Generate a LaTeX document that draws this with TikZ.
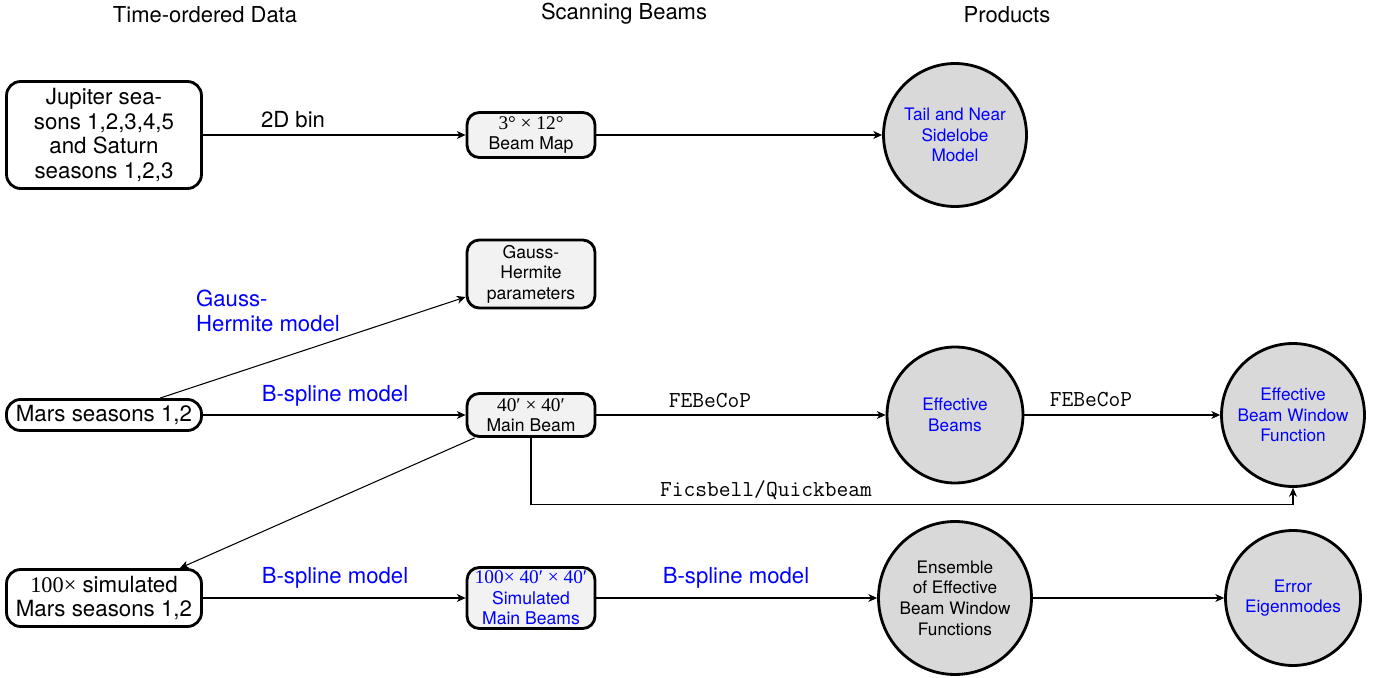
\documentclass[tikz,border=0pt]{standalone}
\usepackage{fontspec}
\setmainfont{TeX Gyre Heros}
\newfontfamily\tms{Liberation Serif}
\usetikzlibrary{arrows.meta,calc}
\definecolor{lblue}{RGB}{0,0,255}
\definecolor{boxgray}{RGB}{242,242,242}
\definecolor{circgray}{RGB}{217,217,217}
\newcommand{\tmsb}{\tms\fontsize{11}{11.7}\selectfont}
\begin{document}
\begin{tikzpicture}[x=0.02cm,y=-0.02cm,
  srcbox/.style={draw, line width=1.6pt, rounded corners=8pt, fill=white, minimum width=3.9cm, align=center, inner sep=0pt, font=\fontsize{12.7}{14.2}\selectfont},
  beambox/.style={draw, line width=1.6pt, rounded corners=7pt, fill=boxgray, minimum width=2.56cm, align=center, inner sep=0pt, font=\fontsize{10}{11.7}\selectfont},
  prod/.style={draw, circle, line width=1.6pt, fill=circgray, align=center, inner sep=0pt, font=\fontsize{9.8}{11.8}\selectfont},
  conn/.style={line width=0.6pt, -{Stealth[length=5pt,width=4.5pt,inset=1.5pt]}},
  lbl/.style={font=\fontsize{12.6}{14.2}\selectfont},
  blbl/.style={lbl, text=lblue},
  ttl/.style={font=\ttfamily\fontsize{13}{14.5}\selectfont},
  hdr/.style={font=\fontsize{12.5}{14}\selectfont}]
\useasboundingbox (0,0) rectangle (1389,678);

% headers
\node[hdr] (h1) at (205,15) {Time-ordered Data};
\node[hdr] (h2) at (624,14) {Scanning Beams};
\node[hdr] (h3) at (1007,15) {Products};

% sources
\node[srcbox, minimum height=2.14cm] (jup) at (104,135) {Jupiter sea-\\sons 1,2,3,4,5\\and Saturn\\seasons 1,2,3};
\node[srcbox, minimum height=0.62cm] (mars) at (104,415) {Mars seasons 1,2};
\node[srcbox, minimum height=1.14cm] (sim) at (104,598) {{\tms 100×} simulated\\Mars seasons 1,2};

% scanning beams
\node[beambox, minimum height=0.9cm] (bmap) at (531,135) {{\tmsb 3° × 12°}\\Beam Map};
\node[beambox, minimum height=1.36cm] (gh) at (531,274) {Gauss-\\Hermite\\parameters};
\node[beambox, minimum height=0.86cm] (mb) at (531,415) {{\tmsb 40′ × 40′}\\Main Beam};
\node[beambox, minimum height=1.22cm, text=lblue] (smb) at (531,598) {{\tmsb 100× 40′ × 40′}\\Simulated\\Main Beams};

% products
\node[prod, minimum size=2.86cm, text=lblue] (tail) at (955,135) {Tail and Near\\Sidelobe\\Model};
\node[prod, minimum size=2.72cm, text=lblue] (eb) at (955,415) {Effective\\Beams};
\node[prod, minimum size=2.86cm, text=lblue] (ebwf) at (1293,415) {Effective\\Beam Window\\Function};
\node[prod, minimum size=3.06cm] (ens) at (955,598) {Ensemble\\of Effective\\Beam Window\\Functions};
\node[prod, minimum size=2.7cm, text=lblue] (err) at (1293,598) {Error\\Eigenmodes};

% connectors
\draw[conn] (jup.east) -- (bmap.west);
\draw[conn] (bmap.east) -- (tail.west);
\draw[conn] ([xshift=1.12cm]mars.north) -- ([yshift=-0.46cm]gh.west);
\draw[conn] (mars.east) -- (mb.west);
\draw[conn] (mb.east) -- (eb.west);
\draw[conn] (eb.east) -- (ebwf.west);
\draw[conn] (mb.south) |- ([yshift=-0.33cm]ebwf.south) -- (ebwf.south);
\draw[conn] ([xshift=0.18cm]mb.south west) -- ([xshift=-0.46cm]sim.north east);
\draw[conn] (sim.east) -- (smb.west);
\draw[conn] (smb.east) -- (ens.west);
\draw[conn] (ens.east) -- (err.west);

% labels
\node[lbl] (l2d) at (293,120) {2D bin};
\node[blbl, align=left] (lgh) at (268,311) {Gauss-\\Hermite model};
\node[blbl] (lbs1) at (335,396) {B-spline model};
\node[ttl] (lfe1) at (710,401) {FEBeCoP};
\node[ttl] (lfe2) at (1091,400) {FEBeCoP};
\node[ttl] (lfq) at (766,490) {Ficsbell/Quickbeam};
\node[blbl] (lbs2) at (335,578) {B-spline model};
\node[blbl] (lbs3) at (736,578) {B-spline model};
\end{tikzpicture}
\end{document}
